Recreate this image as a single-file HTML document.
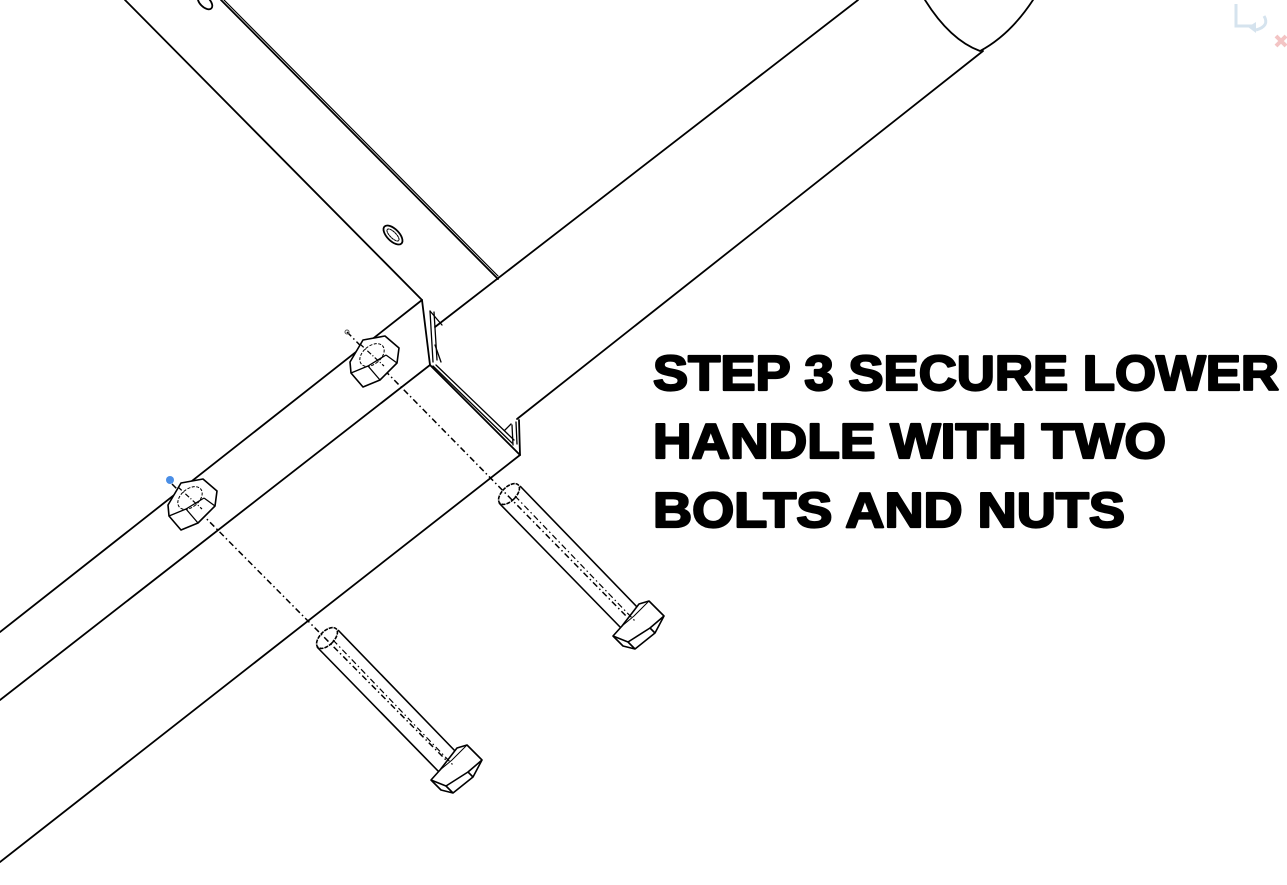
<!DOCTYPE html>
<html><head><meta charset="utf-8"><style>
html,body{margin:0;padding:0;background:#fff;}
svg{display:block;}
</style></head><body>
<svg width="1287" height="885" viewBox="0 0 1287 885" xmlns="http://www.w3.org/2000/svg">
<rect width="1287" height="885" fill="#fff"/>
<g fill="none" stroke="#000" stroke-width="1.8" stroke-linecap="round" stroke-linejoin="round">
  <line x1="125" y1="0" x2="422" y2="300"/>
  <line x1="221" y1="0" x2="498" y2="279"/>
  <line x1="224" y1="0" x2="498" y2="276" stroke-width="1.2"/>
  <ellipse cx="393" cy="235" rx="6" ry="12" transform="rotate(-45 393 235)"/>
  <ellipse cx="393" cy="235" rx="3" ry="8" transform="rotate(-45 393 235)" stroke-width="1" stroke-dasharray="2 1"/>
  <ellipse cx="205" cy="2" rx="5" ry="9" transform="rotate(-45 205 2)"/>
  <line x1="435" y1="327" x2="858" y2="0"/>
  <line x1="517" y1="419" x2="983" y2="51"/>
  <path d="M925 0 Q950 40 980 51 Q1010 35 1033 0"/>
  <line x1="0" y1="632" x2="422" y2="300"/>
  <line x1="0" y1="700" x2="430" y2="365"/>
  <line x1="0" y1="862" x2="520" y2="455"/>
  <line x1="422" y1="300" x2="430" y2="365"/>
  <line x1="430" y1="365" x2="520" y2="455"/>
  <line x1="520" y1="455" x2="519" y2="420"/>
  <line x1="430" y1="311" x2="433" y2="362" stroke-width="1.3"/>
  <line x1="434" y1="312" x2="437" y2="360" stroke-width="1.3"/>
  <line x1="430" y1="311" x2="442" y2="325" stroke-width="1.3"/>
  <line x1="435" y1="345" x2="441" y2="362" stroke-width="1.3"/>
  <line x1="433" y1="366" x2="512" y2="443" stroke-width="1.3"/>
  <line x1="436" y1="365" x2="514" y2="440" stroke-width="1.3"/>
  <line x1="512" y1="425" x2="513" y2="445" stroke-width="1.3"/>
  <line x1="516" y1="422" x2="517" y2="444" stroke-width="1.3"/>
  <line x1="505" y1="430" x2="511" y2="424" stroke-width="1.3"/>
</g>
<g fill="none" stroke="#000" stroke-width="1.5" stroke-dasharray="6 3 1.5 3">
  <line x1="347" y1="332" x2="631" y2="621"/>
  <line x1="172" y1="484" x2="450" y2="764"/>
</g>
<circle cx="347" cy="332" r="2" fill="none" stroke="#555" stroke-width="1"/>
<g id="nut" fill="#fff" stroke="#000" stroke-width="1.6" stroke-linejoin="round">
  <polygon points="350,362 363,340 385,336 399,348 397,363 380,380 363,387 351,373"/>
  <line x1="351" y1="373" x2="368" y2="366" stroke-width="1.3"/>
  <line x1="368" y1="366" x2="380" y2="380" stroke-width="1.3"/>
  <line x1="368" y1="366" x2="386" y2="355" stroke-width="1.3"/>
  <line x1="386" y1="355" x2="397" y2="363" stroke-width="1.3"/>
  <ellipse cx="372" cy="355" rx="9" ry="14" transform="rotate(50 372 355)" fill="none" stroke-width="1" stroke-dasharray="3 1.5"/>
  <line x1="360" y1="344" x2="384" y2="366" stroke-width="1.2" stroke-dasharray="5 2 1 2"/>
</g>
<use href="#nut" transform="translate(-182 143)"/>
<circle cx="170" cy="480" r="4" fill="#4a8ee6"/>
<g id="bolt" fill="none" stroke="#000" stroke-width="1.6" stroke-linejoin="round">
  <line x1="317" y1="647" x2="440" y2="773"/>
  <line x1="338" y1="630" x2="457" y2="753"/>
  <ellipse cx="327" cy="638" rx="7" ry="13" transform="rotate(45 327 638)" stroke-dasharray="4 1"/>
  <polygon points="431,780 440,770 457,748 467,745 482,760 473,777 453,793 441,790" fill="#fff"/>
  <polyline points="431,780 446,786 453,793"/>
  <polyline points="446,786 468,772 482,760"/>
  <polyline points="468,772 473,777"/>
  <polyline points="440,770 452,760 467,745" stroke-width="1"/>
  <line x1="333" y1="640" x2="453" y2="765" stroke-width="1.2" stroke-dasharray="6 3 1.5 3"/>
</g>
<use href="#bolt" transform="translate(182 -144)"/>
<g fill="none" stroke="#d5e3ee" stroke-width="3">
  <path d="M1236 4 L1236 26 L1252 26"/>
  <path d="M1264 16 Q1270 26 1256 30"/>
</g>
<path d="M1248 27 L1256 22 L1256 33 Z" fill="#d5e3ee"/>
<path d="M1276 36 L1286 46 M1286 36 L1276 46" stroke="#f3c4c4" stroke-width="4"/>
<g font-family="'Liberation Sans', Arial, sans-serif" font-weight="bold" font-size="49" fill="#000" stroke="#000" stroke-width="2.2" stroke-linejoin="round">
  <text x="653" y="390" textLength="626" lengthAdjust="spacingAndGlyphs">STEP 3 SECURE LOWER</text>
  <text x="653" y="458" textLength="513" lengthAdjust="spacingAndGlyphs">HANDLE WITH TWO</text>
  <text x="653" y="527" textLength="472" lengthAdjust="spacingAndGlyphs">BOLTS AND NUTS</text>
</g>
</svg>
</body></html>
